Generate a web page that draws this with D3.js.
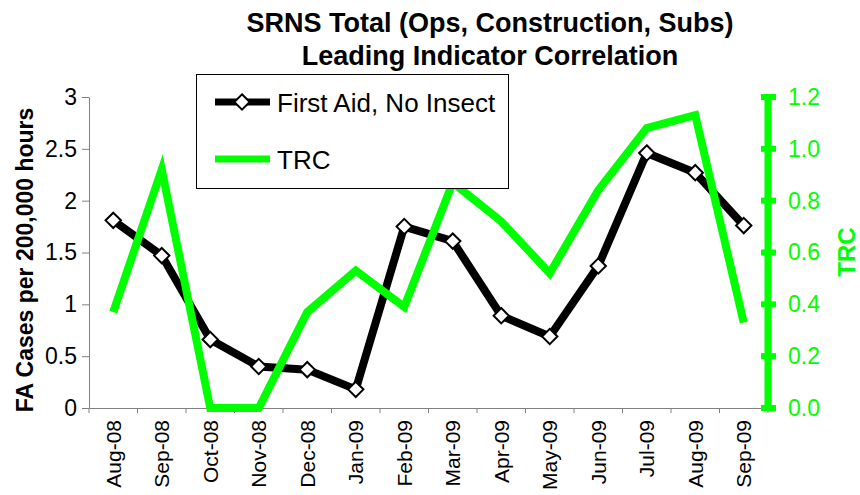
<!DOCTYPE html>
<html>
<head>
<meta charset="utf-8">
<script src="https://cdn.jsdelivr.net/npm/d3@7"></script>
<style>
  body { margin: 0; background: #fff; }
  svg { display: block; font-family: "Liberation Sans", Arial, sans-serif; }
</style>
</head>
<body>
<svg></svg>
<script>
let months = ['Aug-08', 'Sep-08', 'Oct-08', 'Nov-08', 'Dec-08', 'Jan-09', 'Feb-09',
              'Mar-09', 'Apr-09', 'May-09', 'Jun-09', 'Jul-09', 'Aug-09', 'Sep-09'];
let firstAid = [1.81, 1.47, 0.66, 0.40, 0.37, 0.18, 1.75, 1.61, 0.89, 0.69, 1.37, 2.46, 2.27, 1.76];
let trc = [0.37, 0.92, 0, 0, 0.37, 0.53, 0.39, 0.87, 0.72, 0.52, 0.84, 1.08, 1.13, 0.33];
let leftTicks = [0, 0.5, 1, 1.5, 2, 2.5, 3];
let rightTicks = [0, 0.2, 0.4, 0.6, 0.8, 1.0, 1.2];

let width = 860;
let height = 495;
let green = '#00ff00';

let svg = d3.select('svg')
    .attr('width', width)
    .attr('height', height);

let xScale = d3.scaleBand().domain(months).range([89, 768]);
let yLeft = d3.scaleLinear().domain([0, 3]).range([408, 97]);
let yRight = d3.scaleLinear().domain([0, 1.2]).range([408, 97]);
let xMid = (m) => xScale(m) + xScale.bandwidth() / 2;

// title
svg.append('text')
    .attr('x', 490).attr('y', 32)
    .attr('text-anchor', 'middle')
    .style('font-size', '27px').style('font-weight', 'bold')
    .text('SRNS Total (Ops, Construction, Subs)');
svg.append('text')
    .attr('x', 490).attr('y', 65)
    .attr('text-anchor', 'middle')
    .style('font-size', '27px').style('font-weight', 'bold')
    .text('Leading Indicator Correlation');

// x axis
let xAxis = svg.append('g')
    .attr('transform', 'translate(0, 408)')
    .call(d3.axisBottom(xScale).tickSize(0).tickPadding(0));
xAxis.select('.domain').attr('stroke', '#808080');
xAxis.selectAll('.tick text')
    .attr('transform', 'rotate(-90)')
    .attr('text-anchor', 'end')
    .attr('x', -12)
    .attr('y', 0)
    .attr('dy', '0.35em')
    .style('font-size', '21px')
    .attr('fill', '#000');
svg.append('g').selectAll('line')
    .data(months.concat(['end']))
    .enter()
    .append('line')
    .attr('x1', (d, i) => i < months.length ? xScale(d) : xScale.range()[1])
    .attr('x2', (d, i) => i < months.length ? xScale(d) : xScale.range()[1])
    .attr('y1', 408).attr('y2', 413)
    .attr('stroke', '#808080');

// left axis
let yAxisL = svg.append('g')
    .attr('transform', 'translate(89, 0)')
    .call(d3.axisLeft(yLeft).tickValues(leftTicks).tickSize(7).tickPadding(5).tickFormat(d3.format('')).tickSizeOuter(0));
yAxisL.select('.domain').attr('stroke', '#808080');
yAxisL.selectAll('.tick line').attr('stroke', '#808080');
yAxisL.selectAll('.tick text').style('font-size', '23px').attr('fill', '#000');

svg.append('text')
    .attr('transform', 'translate(33, 260) rotate(-90)')
    .attr('text-anchor', 'middle')
    .style('font-size', '23px').style('font-weight', 'bold')
    .text('FA Cases per 200,000 hours');

// right axis
let yAxisR = svg.append('g')
    .attr('transform', 'translate(768, 0)')
    .call(d3.axisRight(yRight).tickValues(rightTicks).tickSize(0).tickPadding(20).tickFormat(d3.format('.1f')));
yAxisR.select('.domain').remove();
svg.append('line')
    .attr('x1', 768).attr('x2', 768)
    .attr('y1', yRight(1.2) - 3).attr('y2', yRight(0) + 3)
    .attr('stroke', green).attr('stroke-width', 7);
svg.append('g').selectAll('rect')
    .data(rightTicks)
    .enter()
    .append('rect')
    .attr('x', 761).attr('width', 15)
    .attr('y', (d) => yRight(d) - 3).attr('height', 6)
    .attr('fill', green);
yAxisR.selectAll('.tick text').style('font-size', '23px').attr('fill', green);

svg.append('text')
    .attr('transform', 'translate(855, 252) rotate(-90)')
    .attr('text-anchor', 'middle')
    .style('font-size', '24px').style('font-weight', 'bold')
    .attr('fill', green)
    .text('TRC');

// First Aid series
let lineL = d3.line().x((d, i) => xMid(months[i])).y((d) => yLeft(d));
svg.append('path')
    .datum(firstAid)
    .attr('d', lineL)
    .attr('fill', 'none')
    .attr('stroke', '#000')
    .attr('stroke-width', 8)
    .attr('stroke-linejoin', 'round');

let diamond = d3.symbol().type(d3.symbolDiamond2).size(150);
svg.append('g').selectAll('path')
    .data(firstAid)
    .enter()
    .append('path')
    .attr('d', diamond)
    .attr('transform', (d, i) => `translate(${xMid(months[i])}, ${yLeft(d)})`)
    .attr('fill', '#fff')
    .attr('stroke', '#000')
    .attr('stroke-width', 2);

// TRC series
let lineR = d3.line().x((d, i) => xMid(months[i])).y((d) => yRight(d));
svg.append('path')
    .datum(trc)
    .attr('d', lineR)
    .attr('fill', 'none')
    .attr('stroke', green)
    .attr('stroke-width', 8)
    .attr('stroke-linejoin', 'miter');

// legend
let legend = svg.append('g');
legend.append('rect')
    .attr('x', 196.5).attr('y', 74.5)
    .attr('width', 312).attr('height', 114)
    .attr('fill', '#fff')
    .attr('stroke', '#000');
legend.append('line')
    .attr('x1', 215).attr('x2', 270).attr('y1', 102).attr('y2', 102)
    .attr('stroke', '#000').attr('stroke-width', 7);
legend.append('path')
    .attr('d', diamond)
    .attr('transform', 'translate(242, 102)')
    .attr('fill', '#fff').attr('stroke', '#000').attr('stroke-width', 2);
legend.append('text')
    .attr('x', 277).attr('y', 112)
    .style('font-size', '26px')
    .text('First Aid, No Insect');
legend.append('line')
    .attr('x1', 215).attr('x2', 270).attr('y1', 159).attr('y2', 159)
    .attr('stroke', green).attr('stroke-width', 7);
legend.append('text')
    .attr('x', 277).attr('y', 169)
    .style('font-size', '26px')
    .text('TRC');
</script>
</body>
</html>
